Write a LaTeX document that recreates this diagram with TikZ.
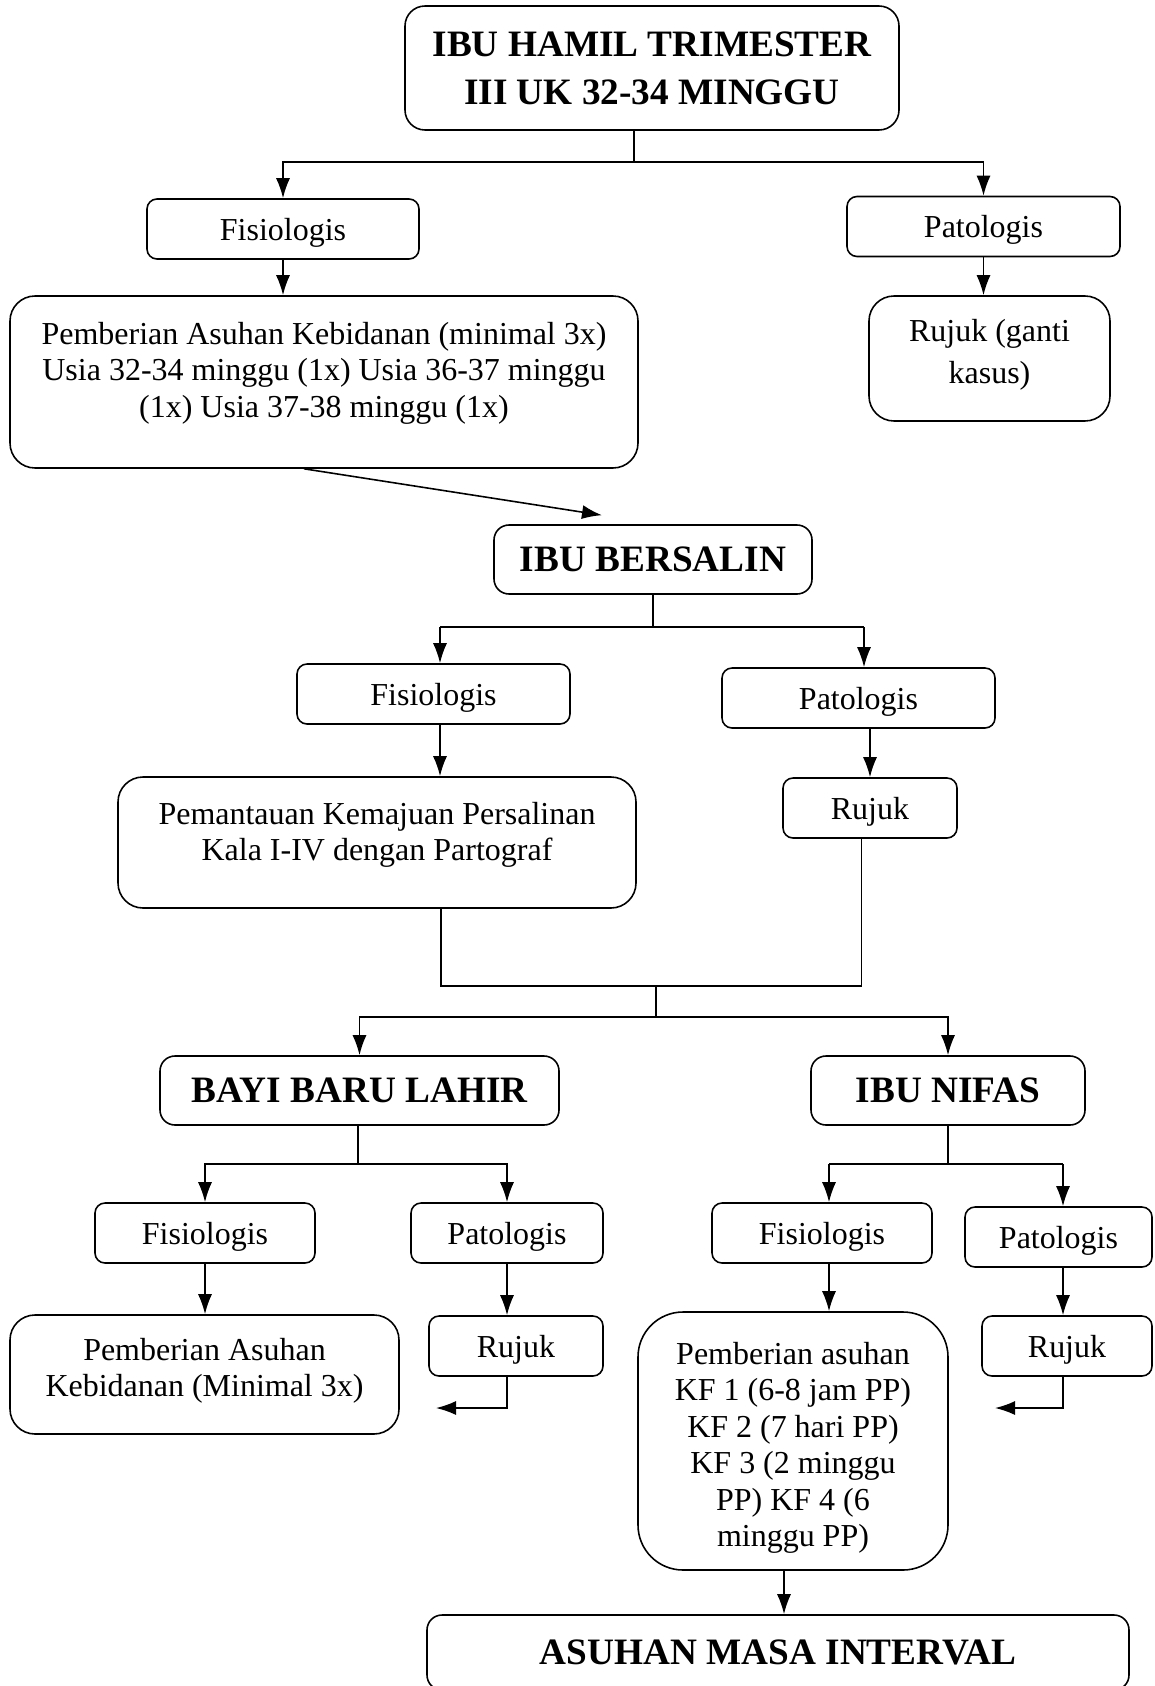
\documentclass[tikz,border=0pt]{standalone}
\usepackage{fontspec}
\setmainfont{Liberation Serif}
\usetikzlibrary{arrows.meta}

\newcommand{\bodyfont}{\fontsize{18.2}{20.8}\selectfont}
\newcommand{\headfont}{\fontsize{21.2}{27.3}\selectfont\bfseries}

\begin{document}
\begin{tikzpicture}
        % Define styles
        \tikzset{
            box/.style={rectangle, draw, rounded corners=2mm, line width=0.9pt, minimum height=1.2cm, text depth=0pt, font=\bodyfont},
            textbox/.style={rectangle, draw, rounded corners=5mm, line width=0.9pt, inner sep=0pt, font=\bodyfont},
            headbox/.style={rectangle, draw, rounded corners=3mm, line width=0.9pt, minimum height=1.38cm, font=\headfont},
            arrow/.style={->,>={Latex[length=4mm,width=2.8mm]}, line width=0.9pt},
            link/.style={line width=0.9pt}
        }
        \useasboundingbox (0,0) rectangle (23.08,-33.72);

        % Ibu hamil
        \node[headbox, align=center, minimum width=9.88cm, minimum height=2.48cm, rounded corners=4mm] (hamil) at (13.04,-1.36) {IBU HAMIL TRIMESTER\\III UK 32-34 MINGGU};
        \node[box, minimum width=5.44cm] (fis_hamil) at (5.66,-4.58) {Fisiologis};
        \node[box, minimum width=5.46cm] (pat_hamil) at (19.67,-4.53) {Patologis};
        \node[textbox] (asuhan_hamil) at (6.48,-7.64) {\parbox[c][3.44cm][t]{12.56cm}{\centering\rule{0pt}{0.96cm}Pemberian Asuhan Kebidanan (minimal 3x)\\Usia 32-34 minggu (1x) Usia 36-37 minggu\\(1x) Usia 37-38 minggu (1x)}};
        \node[textbox] (rujuk_hamil) at (19.79,-7.17) {\parbox[c][2.5cm][t]{4.82cm}{\fontsize{18.2}{24}\selectfont\centering\rule{0pt}{0.9cm}Rujuk (ganti\\kasus)}};

        % Ibu bersalin
        \node[headbox, minimum width=6.36cm] (bersalin) at (13.06,-11.19) {IBU BERSALIN};
        \node[box, minimum width=5.46cm] (fis_salin) at (8.67,-13.88) {Fisiologis};
        \node[box, minimum width=5.46cm] (pat_salin) at (17.17,-13.96) {Patologis};
        \node[textbox] (pantau_salin) at (7.54,-16.85) {\parbox[c][2.62cm][t]{10.36cm}{\centering\rule{0pt}{0.94cm}Pemantauan Kemajuan Persalinan\\Kala I-IV dengan Partograf}};
        \node[box, minimum width=3.48cm] (rujuk_salin) at (17.4,-16.16) {Rujuk};

        % Bayi baru lahir dan ibu nifas
        \node[headbox, minimum width=7.98cm] (bayi) at (7.19,-21.81) {BAYI BARU LAHIR};
        \node[headbox, minimum width=5.48cm] (nifas) at (18.96,-21.81) {IBU NIFAS};
        \node[box, minimum width=4.4cm] (fis_bayi) at (4.1,-24.66) {Fisiologis};
        \node[box, minimum width=3.84cm] (pat_bayi) at (10.14,-24.66) {Patologis};
        \node[textbox] (asuhan_bayi) at (4.09,-27.49) {\parbox[c][2.38cm][t]{7.78cm}{\centering\rule{0pt}{0.9cm}Pemberian Asuhan\\Kebidanan (Minimal 3x)}};
        \node[box, minimum width=3.48cm] (rujuk_bayi) at (10.32,-26.92) {Rujuk};
        \node[box, minimum width=4.4cm] (fis_nifas) at (16.44,-24.66) {Fisiologis};
        \node[box, minimum width=3.74cm] (pat_nifas) at (21.17,-24.74) {Patologis};
        \node[textbox, rounded corners=9mm] (asuhan_nifas) at (15.86,-28.82) {\parbox[c][5.16cm][t]{6.2cm}{\centering\rule{0pt}{1.04cm}Pemberian asuhan\\KF 1 (6-8 jam PP)\\KF 2 (7 hari PP)\\KF 3 (2 minggu\\PP) KF 4 (6\\minggu PP)}};
        \node[box, minimum width=3.4cm] (rujuk_nifas) at (21.34,-26.92) {Rujuk};

        % Interval
        \node[headbox, minimum width=14.04cm, minimum height=1.5cm] (interval) at (15.56,-33.05) {ASUHAN MASA INTERVAL};

        % Arrows hamil
        \coordinate (fork_hamil) at (12.68,-3.24);
        \draw[link] (fork_hamil |- hamil.south) -- (fork_hamil);
        \draw[arrow] (fork_hamil) -| (fis_hamil.north);
        \draw[arrow] (fork_hamil) -| (pat_hamil.north);
        \draw[arrow] (fis_hamil.south) -- (fis_hamil.south |- asuhan_hamil.north);
        \draw[arrow] (pat_hamil.south) -- (pat_hamil.south |- rujuk_hamil.north);
        \draw[arrow] ([xshift=-0.4cm]asuhan_hamil.south) -- ([xshift=-1.02cm,yshift=0.18cm]bersalin.north);

        % Arrows bersalin
        \coordinate (fork_salin) at (13.06,-12.54);
        \coordinate (fork_salin_l) at (8.8,-12.54);
        \coordinate (fork_salin_r) at (17.28,-12.54);
        \draw[link] (bersalin.south) -- (fork_salin);
        \draw[link] (fork_salin_l) -- (fork_salin_r);
        \draw[arrow] (fork_salin_l) -- (fork_salin_l |- fis_salin.north);
        \draw[arrow] (fork_salin_r) -- (fork_salin_r |- pat_salin.north);
        \draw[arrow] (fork_salin_l |- fis_salin.south) -- (fork_salin_l |- pantau_salin.north);
        \draw[arrow] (rujuk_salin.north |- pat_salin.south) -- (rujuk_salin.north);

        % Join
        \coordinate (join_l) at (8.82,-19.72);
        \coordinate (join_r) at (17.23,-19.72);
        \coordinate (fork_lahir) at (13.12,-20.34);
        \draw[link] (join_l |- pantau_salin.south) -- (join_l) -- (join_r) -- (join_r |- rujuk_salin.south);
        \draw[link] (fork_lahir |- join_l) -- (fork_lahir);
        \draw[arrow] (fork_lahir) -| (bayi.north);
        \draw[arrow] (fork_lahir) -| (nifas.north);

        % Arrows bayi
        \coordinate (fork_bayi) at (7.16,-23.28);
        \coordinate (back_bayi) at (8.72,-28.16);
        \draw[link] (fork_bayi |- bayi.south) -- (fork_bayi);
        \draw[arrow] (fork_bayi) -| (fis_bayi.north);
        \draw[arrow] (fork_bayi) -| (pat_bayi.north);
        \draw[arrow] (fis_bayi.south) -- (fis_bayi.south |- asuhan_bayi.north);
        \draw[arrow] (pat_bayi.south) -- (pat_bayi.south |- rujuk_bayi.north);
        \draw[arrow] (pat_bayi.south |- rujuk_bayi.south) |- (back_bayi);

        % Arrows nifas
        \coordinate (fork_nifas_l) at (16.58,-23.28);
        \coordinate (fork_nifas_r) at (21.26,-23.28);
        \coordinate (back_nifas) at (19.9,-28.16);
        \draw[link] (nifas.south) -- (nifas.south |- fork_nifas_l);
        \draw[link] (fork_nifas_l) -- (fork_nifas_r);
        \draw[arrow] (fork_nifas_l) -- (fork_nifas_l |- fis_nifas.north);
        \draw[arrow] (fork_nifas_r) -- (fork_nifas_r |- pat_nifas.north);
        \draw[arrow] (fork_nifas_l |- fis_nifas.south) -- (fork_nifas_l |- asuhan_nifas.north);
        \draw[arrow] (fork_nifas_r |- pat_nifas.south) -- (fork_nifas_r |- rujuk_nifas.north);
        \draw[arrow] (fork_nifas_r |- rujuk_nifas.south) |- (back_nifas);
        \draw[arrow] ([xshift=-0.18cm]asuhan_nifas.south) -- ([xshift=-0.18cm]asuhan_nifas.south |- interval.north);
    \end{tikzpicture}
\end{document}
